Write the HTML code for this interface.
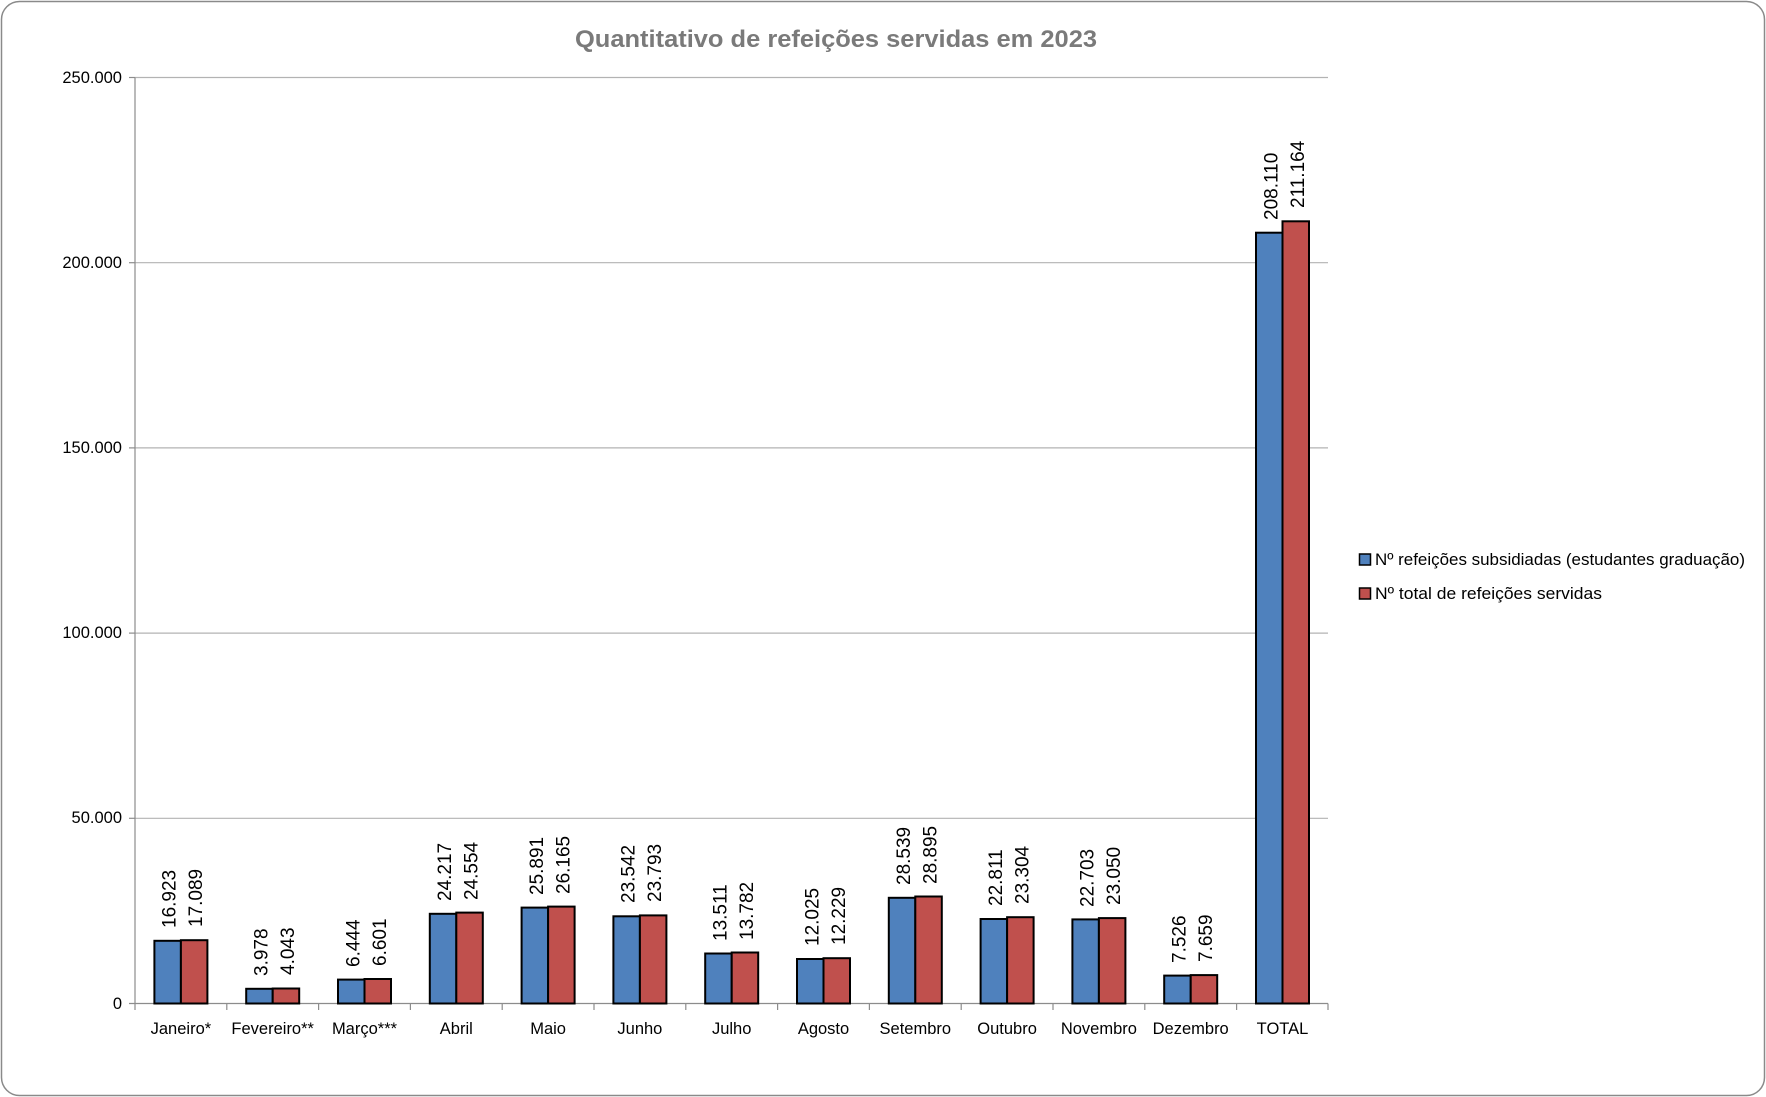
<!DOCTYPE html>
<html><head><meta charset="utf-8"><style>
html,body{margin:0;padding:0;background:#fff;}
svg{display:block;font-family:"Liberation Sans",sans-serif;}
.lb{font-size:19px;fill:#000;}
.tk{font-size:16.5px;fill:#000;}
</style></head><body>
<svg width="1766" height="1097" viewBox="0 0 1766 1097" xmlns="http://www.w3.org/2000/svg">
<rect x="1.5" y="1.5" width="1763" height="1094" rx="18" ry="18" fill="#fff" stroke="#8a8a8a" stroke-width="1.5"/>
<text x="836" y="47" text-anchor="middle" font-size="24" font-weight="bold" fill="#7a7a7a" textLength="522" lengthAdjust="spacingAndGlyphs">Quantitativo de refeições servidas em 2023</text>
<g stroke="#b3b3b3" stroke-width="1.2">
<line x1="135" y1="77.5" x2="1328" y2="77.5"/>
<line x1="135" y1="262.7" x2="1328" y2="262.7"/>
<line x1="135" y1="447.9" x2="1328" y2="447.9"/>
<line x1="135" y1="633.1" x2="1328" y2="633.1"/>
<line x1="135" y1="818.3" x2="1328" y2="818.3"/>
</g>
<g stroke="#8c8c8c" stroke-width="1.2">
<line x1="135" y1="77.5" x2="135" y2="1003.5"/>
<line x1="129" y1="77.5" x2="135" y2="77.5"/>
<line x1="129" y1="262.7" x2="135" y2="262.7"/>
<line x1="129" y1="447.9" x2="135" y2="447.9"/>
<line x1="129" y1="633.1" x2="135" y2="633.1"/>
<line x1="129" y1="818.3" x2="135" y2="818.3"/>
<line x1="129" y1="1003.5" x2="1328" y2="1003.5"/>
<line x1="226.8" y1="1003.5" x2="226.8" y2="1010"/><line x1="318.6" y1="1003.5" x2="318.6" y2="1010"/><line x1="410.4" y1="1003.5" x2="410.4" y2="1010"/><line x1="502.2" y1="1003.5" x2="502.2" y2="1010"/><line x1="594" y1="1003.5" x2="594" y2="1010"/><line x1="685.8" y1="1003.5" x2="685.8" y2="1010"/><line x1="777.6" y1="1003.5" x2="777.6" y2="1010"/><line x1="869.4" y1="1003.5" x2="869.4" y2="1010"/><line x1="961.2" y1="1003.5" x2="961.2" y2="1010"/><line x1="1053" y1="1003.5" x2="1053" y2="1010"/><line x1="1144.8" y1="1003.5" x2="1144.8" y2="1010"/><line x1="1236.6" y1="1003.5" x2="1236.6" y2="1010"/><line x1="1328" y1="1003.5" x2="1328" y2="1010"/><line x1="135" y1="1003.5" x2="135" y2="1010"/>
</g>
<g class="tk" text-anchor="end">
<text x="122" y="83">250.000</text>
<text x="122" y="268">200.000</text>
<text x="122" y="453">150.000</text>
<text x="122" y="638">100.000</text>
<text x="122" y="823">50.000</text>
<text x="122" y="1009">0</text>
</g>
<g class="tk" text-anchor="middle">
<text x="180.9" y="1034">Janeiro*</text>
<text x="272.7" y="1034">Fevereiro**</text>
<text x="364.5" y="1034">Março***</text>
<text x="456.3" y="1034">Abril</text>
<text x="548.1" y="1034">Maio</text>
<text x="639.9" y="1034">Junho</text>
<text x="731.7" y="1034">Julho</text>
<text x="823.5" y="1034">Agosto</text>
<text x="915.3" y="1034">Setembro</text>
<text x="1007.1" y="1034">Outubro</text>
<text x="1098.9" y="1034">Novembro</text>
<text x="1190.7" y="1034">Dezembro</text>
<text x="1282.5" y="1034">TOTAL</text>
</g>
<g stroke="#000" stroke-width="2">
<rect x="154.4" y="940.8" width="26.5" height="62.7" fill="#4f81bd"/><rect x="180.9" y="940.2" width="26.5" height="63.3" fill="#c0504d"/>
<rect x="246.2" y="988.8" width="26.5" height="14.7" fill="#4f81bd"/><rect x="272.7" y="988.5" width="26.5" height="15" fill="#c0504d"/>
<rect x="338" y="979.6" width="26.5" height="23.9" fill="#4f81bd"/><rect x="364.5" y="979" width="26.5" height="24.5" fill="#c0504d"/>
<rect x="429.8" y="913.8" width="26.5" height="89.7" fill="#4f81bd"/><rect x="456.3" y="912.6" width="26.5" height="90.9" fill="#c0504d"/>
<rect x="521.6" y="907.6" width="26.5" height="95.9" fill="#4f81bd"/><rect x="548.1" y="906.6" width="26.5" height="96.9" fill="#c0504d"/>
<rect x="613.4" y="916.3" width="26.5" height="87.2" fill="#4f81bd"/><rect x="639.9" y="915.4" width="26.5" height="88.1" fill="#c0504d"/>
<rect x="705.2" y="953.5" width="26.5" height="50" fill="#4f81bd"/><rect x="731.7" y="952.5" width="26.5" height="51" fill="#c0504d"/>
<rect x="797" y="959" width="26.5" height="44.5" fill="#4f81bd"/><rect x="823.5" y="958.2" width="26.5" height="45.3" fill="#c0504d"/>
<rect x="888.8" y="897.8" width="26.5" height="105.7" fill="#4f81bd"/><rect x="915.3" y="896.5" width="26.5" height="107" fill="#c0504d"/>
<rect x="980.6" y="919" width="26.5" height="84.5" fill="#4f81bd"/><rect x="1007.1" y="917.2" width="26.5" height="86.3" fill="#c0504d"/>
<rect x="1072.4" y="919.4" width="26.5" height="84.1" fill="#4f81bd"/><rect x="1098.9" y="918.1" width="26.5" height="85.4" fill="#c0504d"/>
<rect x="1164.2" y="975.6" width="26.5" height="27.9" fill="#4f81bd"/><rect x="1190.7" y="975.1" width="26.5" height="28.4" fill="#c0504d"/>
<rect x="1256" y="232.7" width="26.5" height="770.8" fill="#4f81bd"/><rect x="1282.5" y="221.3" width="26.5" height="782.2" fill="#c0504d"/>
</g>
<g class="lb" dominant-baseline="central">
<text transform="translate(170.2,928) rotate(-90)">16.923</text><text transform="translate(196.7,927) rotate(-90)">17.089</text>
<text transform="translate(262,976) rotate(-90)">3.978</text><text transform="translate(288.5,975) rotate(-90)">4.043</text>
<text transform="translate(353.8,967) rotate(-90)">6.444</text><text transform="translate(380.3,966) rotate(-90)">6.601</text>
<text transform="translate(445.6,901) rotate(-90)">24.217</text><text transform="translate(472.1,900) rotate(-90)">24.554</text>
<text transform="translate(537.4,895) rotate(-90)">25.891</text><text transform="translate(563.9,894) rotate(-90)">26.165</text>
<text transform="translate(629.2,903) rotate(-90)">23.542</text><text transform="translate(655.7,902) rotate(-90)">23.793</text>
<text transform="translate(721,941) rotate(-90)">13.511</text><text transform="translate(747.5,940) rotate(-90)">13.782</text>
<text transform="translate(812.8,946) rotate(-90)">12.025</text><text transform="translate(839.3,945) rotate(-90)">12.229</text>
<text transform="translate(904.6,885) rotate(-90)">28.539</text><text transform="translate(931.1,884) rotate(-90)">28.895</text>
<text transform="translate(996.4,906) rotate(-90)">22.811</text><text transform="translate(1022.9,904) rotate(-90)">23.304</text>
<text transform="translate(1088.2,907) rotate(-90)">22.703</text><text transform="translate(1114.7,905) rotate(-90)">23.050</text>
<text transform="translate(1180,963) rotate(-90)">7.526</text><text transform="translate(1206.5,962) rotate(-90)">7.659</text>
<text transform="translate(1271.8,220) rotate(-90)">208.110</text><text transform="translate(1298.3,208) rotate(-90)">211.164</text>
</g>
<rect x="1359.5" y="554" width="11" height="11" fill="#4f81bd" stroke="#000" stroke-width="1.5"/>
<rect x="1359.5" y="588" width="11" height="11" fill="#c0504d" stroke="#000" stroke-width="1.5"/>
<g class="tk">
<text x="1375" y="565" textLength="370" lengthAdjust="spacingAndGlyphs">Nº refeições subsidiadas (estudantes graduação)</text>
<text x="1375" y="599" textLength="227" lengthAdjust="spacingAndGlyphs">Nº total de refeições servidas</text>
</g>
</svg>
</body></html>
